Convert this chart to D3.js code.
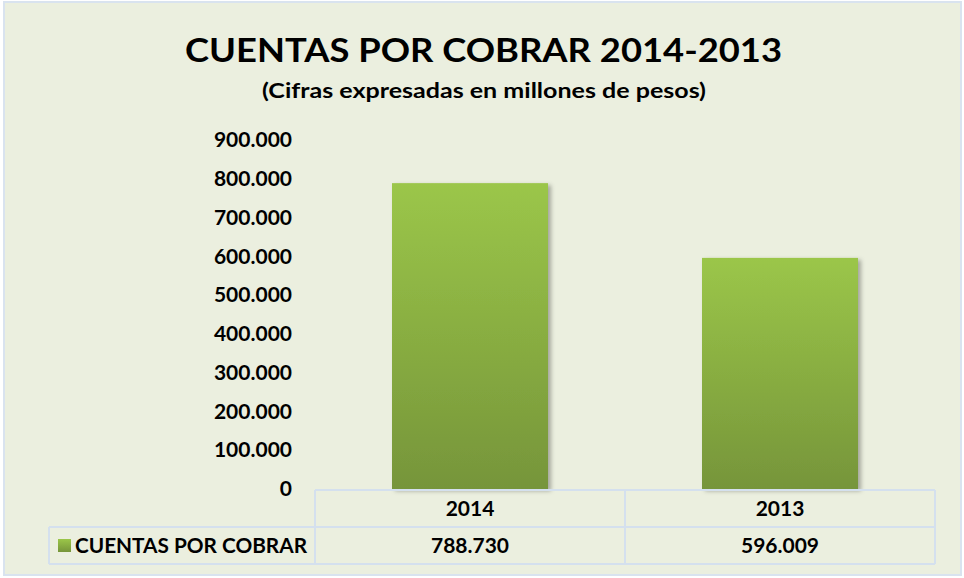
<!DOCTYPE html>
<html>
<head>
<meta charset="utf-8">
<script src="https://cdn.jsdelivr.net/npm/d3@7/dist/d3.min.js"></script>
<style>
  html, body { margin: 0; padding: 0; background: #fff; }
  svg { display: block; font-family: Lato, "Open Sans", sans-serif; font-weight: bold; }
</style>
</head>
<body>
<svg id="chart" width="964" height="578"></svg>
<script>
// Chart data.
const years      = [ '2014', '2013' ];
const values     = [ 788730, 596009 ];
const seriesName = 'CUENTAS POR COBRAR';
const yTicks     = [ 0, 100000, 200000, 300000, 400000, 500000, 600000, 700000, 800000, 900000 ];

// Spanish style numbers: 788.730
const locale = d3.formatLocale( { decimal: ',', thousands: '.', grouping: [ 3 ], currency: [ '$', '' ] } );
const fmt    = locale.format( ',d' );

const svg = d3.select( '#chart' );

// Sizes.
const plot = { left: 315, right: 935, top: 140, bottom: 489 };
const lineColor = '#d4e0ee';

// Background and border.
svg.append( 'rect' )
  .attr( 'x', 4 ).attr( 'y', 2 ).attr( 'width', 957 ).attr( 'height', 573 )
  .attr( 'fill', '#ebefdf' ).attr( 'stroke', '#d9e3ef' ).attr( 'stroke-width', 2 );

// Defs: bar gradient and shadow.
const defs = svg.append( 'defs' );
const grad = defs.append( 'linearGradient' ).attr( 'id', 'barGrad' )
  .attr( 'x1', 0 ).attr( 'y1', 0 ).attr( 'x2', 0 ).attr( 'y2', 1 );
grad.append( 'stop' ).attr( 'offset', '0%'   ).attr( 'stop-color', '#9bc649' );
grad.append( 'stop' ).attr( 'offset', '100%' ).attr( 'stop-color', '#76953a' );
const shadow = defs.append( 'filter' ).attr( 'id', 'shadow' )
  .attr( 'x', '-10%' ).attr( 'y', '-10%' ).attr( 'width', '130%' ).attr( 'height', '120%' );
shadow.append( 'feDropShadow' )
  .attr( 'dx', 3 ).attr( 'dy', 2 ).attr( 'stdDeviation', 2 )
  .attr( 'flood-color', '#000' ).attr( 'flood-opacity', 0.3 );

// Titles.
svg.append( 'text' )
  .attr( 'x', 483.5 ).attr( 'y', 62 ).attr( 'text-anchor', 'middle' )
  .attr( 'font-size', 33 ).attr( 'fill', '#000' )
  .attr( 'textLength', 597 ).attr( 'lengthAdjust', 'spacingAndGlyphs' )
  .text( 'CUENTAS POR COBRAR 2014-2013' );
svg.append( 'text' )
  .attr( 'x', 484 ).attr( 'y', 98 ).attr( 'text-anchor', 'middle' )
  .attr( 'font-size', 20 ).attr( 'fill', '#000' )
  .attr( 'textLength', 444 ).attr( 'lengthAdjust', 'spacingAndGlyphs' )
  .text( '(Cifras expresadas en millones de pesos)' );

// Scales.
const x = d3.scaleBand( ).domain( years ).range( [ plot.left, plot.right ] ).paddingInner( 0 ).paddingOuter( 0 );
const y = d3.scaleLinear( ).domain( [ 0, 900000 ] ).range( [ plot.bottom, plot.top ] );
const barW = 156;

// Y axis (labels only).
const yAxis = svg.append( 'g' )
  .attr( 'transform', 'translate(292,0)' )
  .call( d3.axisLeft( y ).tickValues( yTicks ).tickFormat( fmt ).tickSize( 0 ).tickPadding( 0 ) );
yAxis.select( '.domain' ).remove( );
yAxis.selectAll( 'text' )
  .attr( 'font-family', 'Lato, sans-serif' ).attr( 'font-weight', 'bold' )
  .attr( 'font-size', 21 ).attr( 'fill', '#000' );

// Bars.
svg.append( 'g' ).selectAll( 'rect' )
  .data( years.map( ( k, i ) => ( { year: k, value: values[i] } ) ) )
  .join( 'rect' )
  .attr( 'x', d => x( d.year ) + ( x.bandwidth( ) - barW ) / 2 )
  .attr( 'width', barW )
  .attr( 'y', d => y( d.value ) )
  .attr( 'height', d => y( 0 ) - y( d.value ) )
  .attr( 'fill', 'url(#barGrad)' )
  .attr( 'filter', 'url(#shadow)' );

// Data table.
const rowTop = 490, rowMid = 527, rowBot = 564, legendLeft = 49;
const table = svg.append( 'g' ).attr( 'stroke', lineColor ).attr( 'stroke-width', 2 );
table.append( 'line' ).attr( 'x1', plot.left ).attr( 'x2', plot.right ).attr( 'y1', rowTop ).attr( 'y2', rowTop );
table.append( 'line' ).attr( 'x1', legendLeft ).attr( 'x2', plot.right ).attr( 'y1', rowMid ).attr( 'y2', rowMid );
table.append( 'line' ).attr( 'x1', legendLeft ).attr( 'x2', plot.right ).attr( 'y1', rowBot ).attr( 'y2', rowBot );
table.append( 'line' ).attr( 'x1', legendLeft ).attr( 'x2', legendLeft ).attr( 'y1', rowMid ).attr( 'y2', rowBot );
[ plot.left, ...years.map( k => x( k ) + x.bandwidth( ) ) ].forEach( xx =>
  table.append( 'line' ).attr( 'x1', xx ).attr( 'x2', xx ).attr( 'y1', rowTop ).attr( 'y2', rowBot )
);

// Category labels and values.
svg.append( 'g' ).selectAll( 'text' )
  .data( years )
  .join( 'text' )
  .attr( 'x', d => x( d ) + x.bandwidth( ) / 2 )
  .attr( 'y', ( rowTop + rowMid ) / 2 + 7 )
  .attr( 'text-anchor', 'middle' ).attr( 'font-size', 21 )
  .text( d => d );
svg.append( 'g' ).selectAll( 'text' )
  .data( values )
  .join( 'text' )
  .attr( 'x', ( d, i ) => x( years[i] ) + x.bandwidth( ) / 2 )
  .attr( 'y', ( rowMid + rowBot ) / 2 + 7 )
  .attr( 'text-anchor', 'middle' ).attr( 'font-size', 21 )
  .text( d => fmt( d ) );

// Legend key.
svg.append( 'rect' )
  .attr( 'x', 58 ).attr( 'y', 539 ).attr( 'width', 13 ).attr( 'height', 13 )
  .attr( 'fill', 'url(#barGrad)' );
svg.append( 'text' )
  .attr( 'x', 75 ).attr( 'y', ( rowMid + rowBot ) / 2 + 7 )
  .attr( 'font-size', 21 )
  .attr( 'textLength', 232 ).attr( 'lengthAdjust', 'spacingAndGlyphs' )
  .text( seriesName );
</script>
</body>
</html>
